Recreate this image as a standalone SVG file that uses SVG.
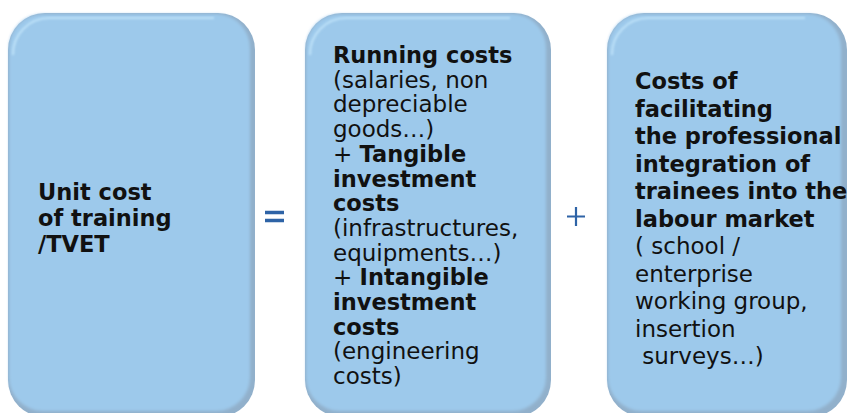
<svg xmlns="http://www.w3.org/2000/svg" width="847" height="413" viewBox="0 0 847 413">
  <defs>
    <filter id="soft" x="-5%" y="-5%" width="110%" height="110%">
      <feGaussianBlur stdDeviation="1.6"/>
    </filter>
    <filter id="soft2" x="-5%" y="-5%" width="110%" height="110%">
      <feGaussianBlur stdDeviation="1"/>
    </filter>
  </defs>
  <style>
    .edge { fill: #91B0CB; }
    .face { fill: #9DC9EB; }
    .hl { fill: none; stroke: #BDE1F8; stroke-width: 2.2; }
    text { font-family: "DejaVu Sans", Verdana, sans-serif; font-size: 23px; fill: #111111; }
    .b { font-weight: bold; font-size: 22.5px; }
    .op { fill: none; stroke: #2E63A6; }
  </style>
  <rect width="847" height="413" fill="#ffffff"/>

  <g id="node-unit-cost">
    <rect class="edge" x="8" y="13" width="247" height="404" rx="37"/>
    <rect class="face" x="9" y="14" width="241" height="397" rx="34" filter="url(#soft)"/>
    <path class="hl" d="M13,55 A36,36 0 0 1 49,18 L214,18" filter="url(#soft2)"/>
    <text x="38" y="200" class="b">Unit cost</text>
    <text x="38" y="225.8" class="b">of training</text>
    <text x="38" y="251.5" class="b">/TVET</text>
  </g>

  <g id="node-running-costs">
    <rect class="edge" x="305" y="13" width="246" height="404" rx="37"/>
    <rect class="face" x="306" y="14" width="240" height="397" rx="34" filter="url(#soft)"/>
    <path class="hl" d="M310,55 A36,36 0 0 1 346,18 L510,18" filter="url(#soft2)"/>
    <text x="333" y="63" class="b">Running costs</text>
    <text x="333" y="87.7">(salaries, non</text>
    <text x="333" y="112.4">depreciable</text>
    <text x="333" y="137.1">goods…)</text>
    <text x="333" y="161.8">+ <tspan class="b">Tangible</tspan></text>
    <text x="333" y="186.5" class="b">investment</text>
    <text x="333" y="211.2" class="b">costs</text>
    <text x="333" y="235.9">(infrastructures,</text>
    <text x="333" y="260.6">equipments…)</text>
    <text x="333" y="285.3">+ <tspan class="b">Intangible</tspan></text>
    <text x="333" y="310" class="b">investment</text>
    <text x="333" y="334.7" class="b">costs</text>
    <text x="333" y="359.4">(engineering</text>
    <text x="333" y="384.1">costs)</text>
  </g>

  <g id="node-integration-costs">
    <rect class="edge" x="607" y="13" width="240" height="404" rx="37"/>
    <rect class="face" x="608" y="14" width="233" height="397" rx="34" filter="url(#soft)"/>
    <path class="hl" d="M612,55 A36,36 0 0 1 648,18 L805,18" filter="url(#soft2)"/>
    <text x="635" y="89" class="b">Costs of</text>
    <text x="635" y="116.5" class="b">facilitating</text>
    <text x="635" y="144" class="b">the professional</text>
    <text x="635" y="171.5" class="b">integration of</text>
    <text x="635" y="199" class="b">trainees into the</text>
    <text x="635" y="226.5" class="b">labour market</text>
    <text x="635" y="254">( school /</text>
    <text x="635" y="281.5">enterprise</text>
    <text x="635" y="309">working group,</text>
    <text x="635" y="336.5">insertion</text>
    <text x="635" y="364" style="white-space:pre"> surveys…)</text>
  </g>

  <g id="connectors">
    <path class="op" stroke-width="3.6" d="M265,212.5 H284 M265,220.5 H284"/>
    <path class="op" stroke-width="2.2" d="M567,216.5 H585 M576,207 V226"/>
  </g>
</svg>
